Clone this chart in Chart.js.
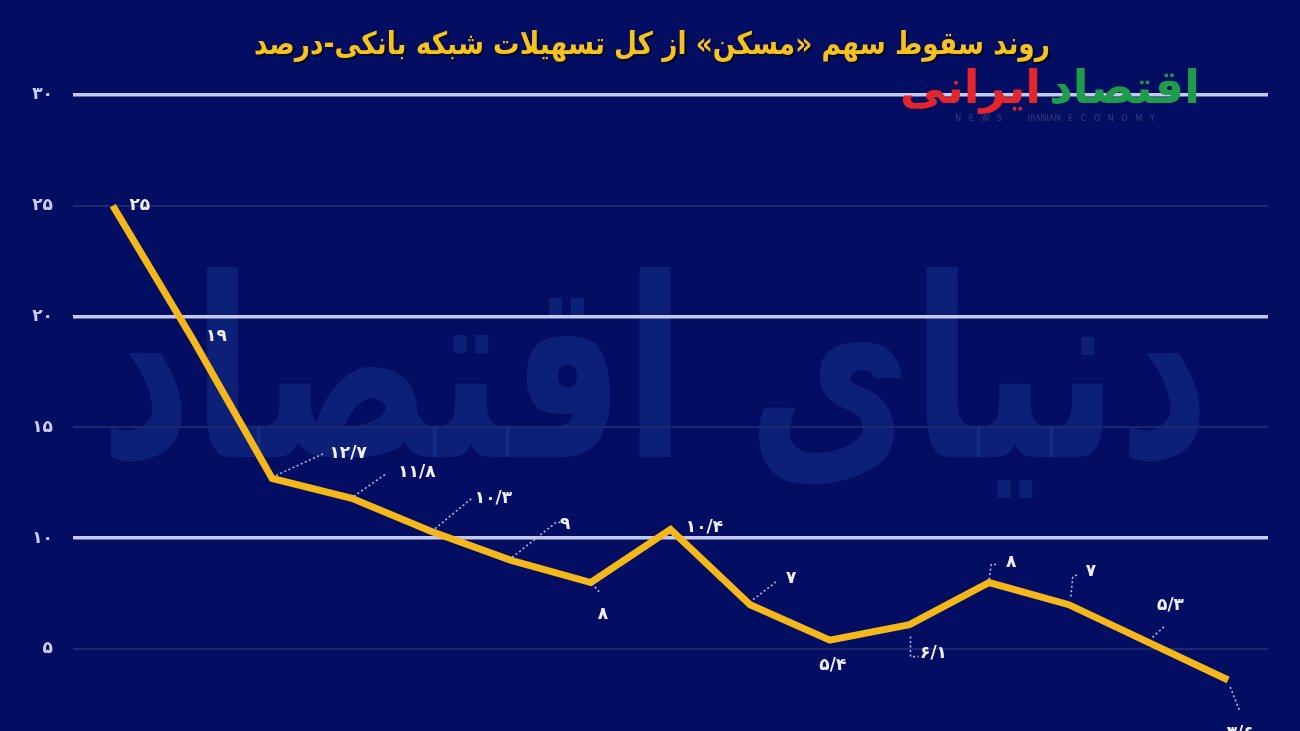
<!DOCTYPE html>
<html><head><meta charset="utf-8">
<script src="https://cdn.jsdelivr.net/npm/chart.js@4"></script>
<style>
html,body{margin:0;padding:0;background:#020c5f;overflow:hidden;width:1300px;height:731px}
#wrap{position:absolute;left:0;top:0;width:1300px;height:790px}
</style>
</head><body><div id="wrap"><canvas id="c"></canvas></div>
<script>
// ---- data ----
const categories = ['1','2','3','4','5','6','7','8','9','10','11','12','13','14','15'];
const shareValues = [25, 19, 12.7, 11.8, 10.3, 9, 8, 10.4, 7, 5.4, 6.1, 8, 7, 5.3, 3.6];
const yTickValues = [0, 5, 10, 15, 20, 25, 30];
const titleText = 'روند سقوط سهم «مسکن» از کل تسهیلات شبکه بانکی-درصد';
const watermarkText = 'دنیای اقتصاد';

// ---- label placement (style, not data) ----
const labelLayout = [
  {dx:27, dy:0, leader:null},
  {dx:24, dy:-2, leader:null},
  {dx:76, dy:-25, leader:[[4,-3],[52,-25]]},
  {dx:65, dy:-26, leader:[[2,-2],[35,-25]]},
  {dx:62, dy:-33, leader:[[0,0],[40,-33]]},
  {dx:54, dy:-36, leader:[[1,-3],[45,-38],[50,-38]]},
  {dx:12, dy:32, leader:[[1,1],[10,11]]},
  {dx:34, dy:-2, leader:null},
  {dx:41, dy:-26, leader:[[3,-5],[26,-23]]},
  {dx:3, dy:25, leader:null},
  {dx:24, dy:29, leader:[[1,12],[1,32],[9,32]]},
  {dx:22, dy:-20, leader:[[0,-3],[2,-18],[8,-18]]},
  {dx:22, dy:-33, leader:[[2,-8],[4,-28],[9,-30]]},
  {dx:22, dy:-37, leader:[[4,-5],[17,-17]]},
  {dx:12, dy:54, leader:[[2,7],[12,32]]}
];

const faDigits = '۰۱۲۳۴۵۶۷۸۹';
function toFa(v){
  return String(v).replace(/\d/g, d => faDigits[+d]).replace('.', '/');
}

const FONT = '"DejaVu Sans", "Noto Sans", sans-serif';

const bgPlugin = {
  id:'bg',
  beforeDraw(chart){
    const ctx = chart.ctx;
    ctx.save();
    ctx.fillStyle = '#030d61';
    ctx.fillRect(0,0,chart.width,chart.height);
    // watermark
    ctx.font = 'bold 250px ' + FONT;
    ctx.fillStyle = 'rgba(35,75,170,0.32)';
    ctx.textAlign = 'center';
    ctx.textBaseline = 'middle';
    ctx.direction = 'rtl';
    ctx.fillText(watermarkText, 655, 392, 1110);
    ctx.restore();
  }
};

const labelPlugin = {
  id:'labels',
  afterDatasetsDraw(chart){
    const ctx = chart.ctx;
    const meta = chart.getDatasetMeta(0);
    ctx.save();
    meta.data.forEach((pt, i) => {
      const L = labelLayout[i];
      const x = pt.x, y = pt.y;
      if (L.leader){
        ctx.beginPath();
        ctx.setLineDash([2,2.5]);
        ctx.lineWidth = 1.6;
        ctx.strokeStyle = '#b3b8e6';
        L.leader.forEach((p, k) => {
          if (k===0) ctx.moveTo(x+p[0], y+p[1]); else ctx.lineTo(x+p[0], y+p[1]);
        });
        ctx.stroke();
      }
      ctx.setLineDash([]);
      ctx.font = 'bold 17px ' + FONT;
      ctx.fillStyle = '#eef0ff';
      ctx.textAlign = 'center';
      ctx.textBaseline = 'middle';
      ctx.direction = 'ltr';
      ctx.fillText(toFa(shareValues[i]), x + L.dx, y + L.dy);
    });
    ctx.restore();
  },
  afterDraw(chart){
    const ctx = chart.ctx;
    ctx.save();
    // title
    ctx.direction = 'rtl';
    ctx.textAlign = 'center';
    ctx.textBaseline = 'middle';
    ctx.font = 'bold 31px ' + FONT;
    ctx.fillStyle = 'rgba(0,0,0,0.6)';
    ctx.fillText(titleText, 654, 48, 796);
    ctx.fillStyle = '#f7c21c';
    ctx.fillText(titleText, 652, 46, 796);
    // logo
    ctx.font = 'bold 46px ' + FONT;
    ctx.textAlign = 'right';
    ctx.fillStyle = '#1f9b4c';
    ctx.fillText('اقتصاد', 1200, 91);
    const w = ctx.measureText('اقتصاد').width;
    ctx.fillStyle = '#e3262c';
    ctx.fillText('ایرانی', 1200 - w - 8, 91);
    ctx.direction = 'ltr';
    ctx.textAlign = 'center';
    ctx.font = '8px ' + FONT;
    ctx.fillStyle = '#3a3f7a';
    ctx.fillText('N   E   W   S          IRANIAN   E   C   O   N   O   M   Y', 1055, 119);
    ctx.restore();
  }
};

new Chart(document.getElementById('c'), {
  type:'line',
  data:{
    labels: categories,
    datasets:[{
      data: shareValues,
      borderColor:'#f5b81a',
      borderWidth:7,
      pointRadius:0,
      tension:0,
      fill:false,
      clip:false
    }]
  },
  options:{
    responsive:true,
    maintainAspectRatio:false,
    animation:false,
    layout:{padding:{top:95, right:32, bottom:20, left:0}},
    plugins:{legend:{display:false}, tooltip:{enabled:false}, title:{display:false}},
    scales:{
      x:{display:false, offset:true},
      y:{
        min:0, max:30,
        afterBuildTicks(scale){ scale.ticks = yTickValues.map(v => ({value:v})); },
        afterFit(scale){ scale.width = 73; },
        border:{display:false},
        grid:{
          drawTicks:false,
          color: c => (c.tick && c.tick.value % 10 === 0) ? '#c4c9f0' : '#1a2870',
          lineWidth: c => (c.tick && c.tick.value % 10 === 0) ? 3.5 : 2
        },
        ticks:{
          padding:20,
          color:'#c9cdf2',
          font:{family:FONT, size:17, weight:'bold'},
          callback: v => toFa(v)
        }
      }
    }
  },
  plugins:[bgPlugin, labelPlugin]
});
</script>
</body></html>
